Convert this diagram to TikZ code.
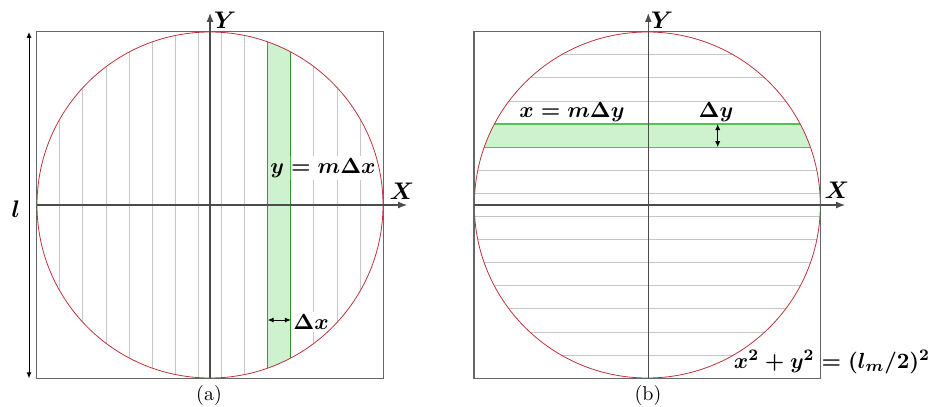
\documentclass[tikz,border=0pt]{standalone}
\usepackage{amsmath}
\usetikzlibrary{arrows.meta}
\definecolor{bandfill}{RGB}{206,242,206}
\definecolor{bandline}{RGB}{88,190,88}
\definecolor{rimred}{RGB}{190,50,60}
\begin{document}
\begin{tikzpicture}[x=0.5pt,y=-0.5pt]
  \tikzset{frame/.style={draw=black!60,line width=0.6pt},
    rim/.style={draw=rimred,line width=0.4pt},
    slice/.style={draw=black!22,line width=0.45pt},
    band/.style={fill=bandfill},
    bandedge/.style={draw=bandline,line width=0.6pt},
    axis/.style={draw=black!70,line width=0.6pt,-{Latex[length=4.5pt,width=3.5pt]}},
    span/.style={line width=0.5pt,{Latex[length=3pt,width=2.6pt]}-{Latex[length=3pt,width=2.6pt]}},
    lbl/.style={font=\fontsize{10.8}{13}\selectfont\boldmath,inner sep=1pt},
    axlbl/.style={font=\large\boldmath,inner sep=0pt},
    panel/.style={font=\normalsize,inner sep=0pt}}
  \useasboundingbox (0,0) rectangle (929,406);
  % (a) vertical slices
  \begin{scope}
    \clip (210,205) circle [radius=173];
    \foreach \k in {1,...,14}
      \draw[slice] ({36.7+\k*23.1},30) -- ({36.7+\k*23.1},380);
  \end{scope}
  \node[lbl,fill=white] (eqa) at (323,168) {$y=m\Delta x$};
  \node[lbl,fill=white] (dxa) at (311,322) {$\Delta x$};
  \begin{scope}[blend mode=multiply]
    \clip (210,205) circle [radius=173];
    \fill[band] (267.7,30) rectangle (290.8,380);
    \draw[bandedge] (267.7,30) -- (267.7,380) (290.8,30) -- (290.8,380);
  \end{scope}
  \draw[rim] (210,205) circle [radius=173];
  \draw[frame] (36.7,31.7) rectangle (383.3,378.3);
  \coordinate (ax0) at (36.7,205); \coordinate (ax1) at (407,205);
  \coordinate (ay0) at (210,378.3); \coordinate (ay1) at (210,13);
  \draw[axis] (ax0) -- (ax1); \draw[axis] (ay0) -- (ay1);
  \node[axlbl] (xa) at (402,191) {$X$};
  \node[axlbl] (ya) at (225,20) {$Y$};
  \coordinate (la0) at (29,32); \coordinate (la1) at (29,378.3);
  \draw[span] (la0) -- (la1);
  \node[axlbl] (la) at (16,209) {$l$};
  \coordinate (dx0) at (267.7,320); \coordinate (dx1) at (290.8,320);
  \draw[span] (dx0) -- (dx1);
  \node[panel] (pa) at (209,395) {(a)};
  % (b) horizontal slices
  \begin{scope}
    \clip (647.3,205) circle [radius=173];
    \fill[band] (470,124.1) rectangle (825,147.2);
    \foreach \k in {1,...,14}
      \draw[slice] (470,{31.7+\k*23.1}) -- (825,{31.7+\k*23.1});
    \draw[bandedge] (470,124.1) -- (825,124.1) (470,147.2) -- (825,147.2);
  \end{scope}
  \node[lbl] (eqb) at (572,112) {$x=m\Delta y$};
  \node[lbl] (dyb) at (716,112) {$\Delta y$};
  \node[lbl,fill=white] (circ) at (832,362) {$x^2+y^2=(l_m/2)^2$};
  \draw[rim] (647.3,205) circle [radius=173];
  \draw[frame] (474,31.7) rectangle (820.7,378.3);
  \coordinate (bx0) at (474,205); \coordinate (bx1) at (845,205);
  \coordinate (by0) at (648.3,378.3); \coordinate (by1) at (648.3,13);
  \draw[axis] (bx0) -- (bx1); \draw[axis] (by0) -- (by1);
  \node[axlbl] (xb) at (837,190) {$X$};
  \node[axlbl] (yb) at (662,20) {$Y$};
  \coordinate (dy0) at (717.7,124.1); \coordinate (dy1) at (717.7,147.2);
  \draw[span] (dy0) -- (dy1);
  \node[panel] (pb) at (648,395) {(b)};
\end{tikzpicture}
\end{document}
